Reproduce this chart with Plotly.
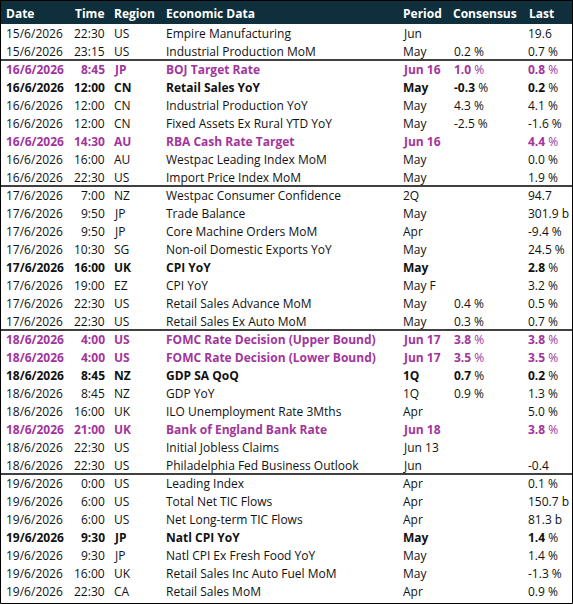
import plotly.graph_objects as go

dates = ["15/6/2026"] * 2 + ["16/6/2026"] * 7 + ["17/6/2026"] * 8 + ["18/6/2026"] * 8 + ["19/6/2026"] * 7
times = ["22:30", "23:15", "8:45", "12:00", "12:00", "12:00", "14:30", "16:00", "22:30",
         "7:00", "9:50", "9:50", "10:30", "16:00", "19:00", "22:30", "22:30",
         "4:00", "4:00", "8:45", "8:45", "16:00", "21:00", "22:30", "22:30",
         "0:00", "6:00", "6:00", "9:30", "9:30", "16:00", "22:30"]
regions = ["US", "US", "JP", "CN", "CN", "CN", "AU", "AU", "US",
           "NZ", "JP", "JP", "SG", "UK", "EZ", "US", "US",
           "US", "US", "NZ", "NZ", "UK", "UK", "US", "US",
           "US", "US", "US", "JP", "JP", "UK", "CA"]
events = ["Empire Manufacturing", "Industrial Production MoM", "BOJ Target Rate", "Retail Sales YoY",
          "Industrial Production YoY", "Fixed Assets Ex Rural YTD YoY", "RBA Cash Rate Target",
          "Westpac Leading Index MoM", "Import Price Index MoM", "Westpac Consumer Confidence",
          "Trade Balance", "Core Machine Orders MoM", "Non-oil Domestic Exports YoY", "CPI YoY",
          "CPI YoY", "Retail Sales Advance MoM", "Retail Sales Ex Auto MoM",
          "FOMC Rate Decision (Upper Bound)", "FOMC Rate Decision (Lower Bound)", "GDP SA QoQ",
          "GDP YoY", "ILO Unemployment Rate 3Mths", "Bank of England Bank Rate",
          "Initial Jobless Claims", "Philadelphia Fed Business Outlook", "Leading Index",
          "Total Net TIC Flows", "Net Long-term TIC Flows", "Natl CPI YoY",
          "Natl CPI Ex Fresh Food YoY", "Retail Sales Inc Auto Fuel MoM", "Retail Sales MoM"]
periods = ["Jun", "May", "Jun 16", "May", "May", "May", "Jun 16", "May", "May",
           "2Q", "May", "Apr", "May", "May", "May F", "May", "May",
           "Jun 17", "Jun 17", "1Q", "1Q", "Apr", "Jun 18", "Jun 13", "Jun",
           "Apr", "Apr", "Apr", "May", "May", "May", "Apr"]
consensus = ["", "0.2 %", "1.0 %", "-0.3 %", "4.3 %", "-2.5 %", "", "", "",
             "", "", "", "", "", "", "0.4 %", "0.3 %",
             "3.8 %", "3.5 %", "0.7 %", "0.9 %", "", "", "", "",
             "", "", "", "", "", "", ""]
last = ["19.6", "0.7 %", "0.8 %", "0.2 %", "4.1 %", "-1.6 %", "4.4 %", "0.0 %", "1.9 %",
        "94.7", "301.9 b", "-9.4 %", "24.5 %", "2.8 %", "3.2 %", "0.5 %", "0.7 %",
        "3.8 %", "3.5 %", "0.2 %", "1.3 %", "5.0 %", "3.8 %", "", "-0.4",
        "0.1 %", "150.7 b", "81.3 b", "1.4 %", "1.4 %", "-1.3 %", "0.9 %"]
# n = normal, b = bold, p = purple bold (central bank)
styles = ["n", "n", "p", "b", "n", "n", "p", "n", "n",
          "n", "n", "n", "n", "b", "n", "n", "n",
          "p", "p", "b", "n", "n", "p", "n", "n",
          "n", "n", "n", "b", "n", "n", "n"]
headers = ["Date", "Time", "Region", "Economic Data", "Period", "Consensus", "Last"]

W, H = 573, 604
HEAD_H, ROW_H = 24, 18
PURPLE = "#a2359d"
FONT = "Open Sans"
FS = 12

# column x position and anchor
cols = [(4, "left"), (107, "right"), (112, "left"), (164, "left"),
        (401, "left"), (452, "left"), (526, "left")]
head_x = [4, 73, 112, 164, 401, 451, 527]


def fmt(txt, st):
    if not txt:
        return ""
    if st == "n":
        return txt
    if txt.endswith(" %"):
        return "<b>" + txt[:-2] + "</b> %"
    return "<b>" + txt + "</b>"


fig = go.Figure()
shapes = [dict(type="rect", x0=0, x1=W, y0=0, y1=HEAD_H, fillcolor="#0e2f3b", line_width=0, layer="below")]
annotations = []

for h, hx in zip(headers, head_x):
    annotations.append(dict(x=hx, y=HEAD_H / 2 + 1, text="<b>" + h + "</b>", xanchor="left",
                            showarrow=False, font=dict(color="white", size=FS, family=FONT)))

for i in range(len(events)):
    yc = HEAD_H + ROW_H * i + ROW_H / 2
    st = styles[i]
    color = PURPLE if st == "p" else "#111111"
    row = [dates[i], times[i], regions[i], events[i], periods[i], consensus[i], last[i]]
    for (cx, anc), txt in zip(cols, row):
        if not txt:
            continue
        annotations.append(dict(x=cx, y=yc, text=fmt(txt, st), xanchor=anc, showarrow=False,
                                font=dict(color=color, size=FS, family=FONT)))
    if i > 0 and dates[i] != dates[i - 1]:
        ys = HEAD_H + ROW_H * i
        shapes.append(dict(type="line", x0=0, x1=W, y0=ys, y1=ys, line=dict(color="black", width=1.5)))

shapes.append(dict(type="rect", x0=0.5, x1=W - 0.5, y0=0.5, y1=H - 0.5, line=dict(color="black", width=1)))

fig.update_layout(
    width=W, height=H, margin=dict(l=0, r=0, t=0, b=0),
    plot_bgcolor="white", paper_bgcolor="white",
    xaxis=dict(range=[0, W], visible=False, fixedrange=True),
    yaxis=dict(range=[H, 0], visible=False, fixedrange=True),
    shapes=shapes, annotations=annotations, showlegend=False,
)

fig.write_html("out.html", config={"displayModeBar": False},
               post_script="document.body.style.margin='0';document.body.style.overflow='hidden';")
